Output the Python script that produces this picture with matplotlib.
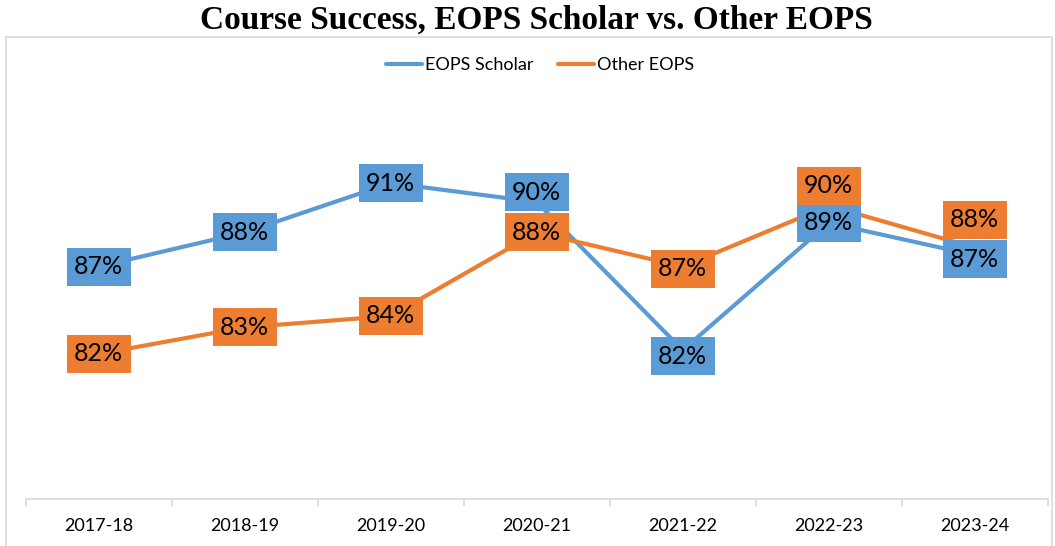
import matplotlib
matplotlib.use("Agg")
import matplotlib.pyplot as plt
from matplotlib.patches import Rectangle

# === Data (percent) ===
years = ["2017-18", "2018-19", "2019-20", "2020-21", "2021-22", "2022-23", "2023-24"]
scholar = [86.6, 88.4, 91.0, 90.0, 82.2, 88.9, 87.2]
other = [82.0, 83.4, 84.0, 88.4, 86.6, 89.8, 87.6]

# label nudges in pixels (positive = up), where the boxes would overlap
scholar_dy = [0, 0, 0, 10, -6, 0, -4]
other_dy = [0, 0, 0, 0, -2, 20, 28]

BLUE = "#5B9BD5"
ORANGE = "#ED7D31"
GRID = "#D9D9D9"
FONT = "Lato"

fig = plt.figure(figsize=(10.55, 5.46), dpi=100)
W, H = 1055, 546

# chart area border
fig.patches.append(Rectangle((6 / W, -0.01), (1052 - 6) / W, (H - 37) / H + 0.01,
                             transform=fig.transFigure, fill=False,
                             edgecolor=GRID, linewidth=1.2))

fig.text(536 / W, 1 - 20 / H, "Course Success, EOPS Scholar vs. Other EOPS",
         ha="center", va="center", fontsize=24, fontweight="bold",
         family="Liberation Serif")

left, right = 25.6 / W, 1047.8 / W
bottom, top = (H - 499) / H, (H - 90) / H
ax = fig.add_axes([left, bottom, right - left, top - bottom])

x = list(range(len(years)))
l1, = ax.plot(x, scholar, color=BLUE, lw=3, solid_capstyle="round", label="EOPS Scholar", zorder=2)
l2, = ax.plot(x, other, color=ORANGE, lw=3, solid_capstyle="round", label="Other EOPS", zorder=2)

ax.set_xlim(-0.5, len(years) - 0.5)
ax.set_ylim(74.36, 95.9)

for vals, dys, col in [(scholar, scholar_dy, BLUE), (other, other_dy, ORANGE)]:
    for i, v in enumerate(vals):
        ax.annotate(f"{round(v):.0f}%", (i, v), xytext=(0, dys[i]),
                    textcoords="offset pixels", ha="center", va="center",
                    fontsize=18, family=FONT, color="black", zorder=3,
                    bbox=dict(boxstyle="square,pad=0.3", facecolor=col, edgecolor="none"))

for s in ["left", "right", "top"]:
    ax.spines[s].set_visible(False)
ax.spines["bottom"].set_color(GRID)
ax.spines["bottom"].set_linewidth(1.2)
ax.set_yticks([])
ax.set_xticks(x)
ax.set_xticklabels(years, fontsize=13, family=FONT)
ax.tick_params(axis="x", which="major", length=0, pad=14)
ax.set_xticks([i - 0.5 for i in range(len(years) + 1)], minor=True)
ax.tick_params(axis="x", which="minor", length=5, color=GRID, width=1.2)

fig.legend(handles=[l1, l2], loc="center", bbox_to_anchor=(540 / W, 1 - 65 / H),
           ncol=2, frameon=False, prop={"family": FONT, "size": 13},
           handlelength=2.0, handletextpad=0.15, columnspacing=1.4)

fig.savefig("out.png", dpi=100)
